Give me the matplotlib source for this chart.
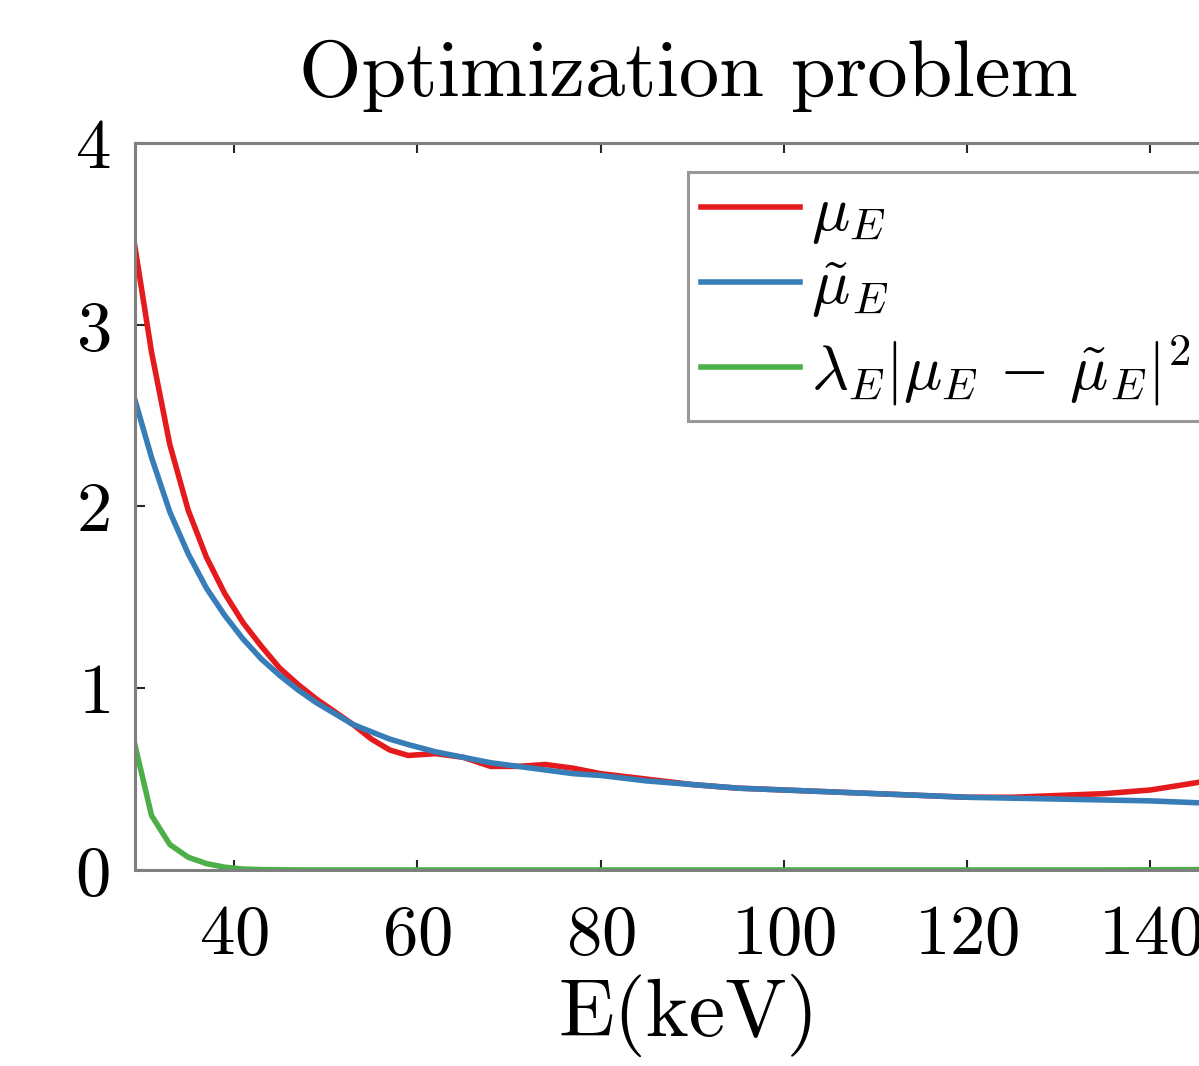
import numpy as np
import matplotlib.pyplot as plt

plt.rcParams['font.family'] = 'cmr10'
plt.rcParams['mathtext.fontset'] = 'cm'
plt.rcParams['axes.formatter.use_mathtext'] = True

# energy grid (keV)
energy = [29, 31, 33, 35, 37, 39, 41, 43, 45, 47, 49, 51, 53, 55, 57, 59,
          62, 65, 68, 71, 74, 77, 80, 85, 90, 95, 100, 105, 110, 115, 120,
          125, 130, 135, 140, 145, 150]

mu_true = [3.49, 2.85, 2.34, 1.98, 1.72, 1.52, 1.36, 1.23, 1.11, 1.02, 0.94,
           0.87, 0.80, 0.72, 0.66, 0.63, 0.64, 0.62, 0.57, 0.57, 0.58, 0.56,
           0.53, 0.50, 0.47, 0.45, 0.44, 0.43, 0.42, 0.41, 0.40, 0.40, 0.41,
           0.42, 0.44, 0.48, 0.53]

mu_fit = [2.62, 2.27, 1.97, 1.74, 1.55, 1.40, 1.27, 1.16, 1.07, 0.99, 0.92,
          0.86, 0.80, 0.76, 0.72, 0.69, 0.65, 0.62, 0.59, 0.57, 0.55, 0.53,
          0.52, 0.49, 0.47, 0.45, 0.44, 0.43, 0.42, 0.41, 0.40, 0.395, 0.39,
          0.385, 0.38, 0.37, 0.365]

penalty = [0.73, 0.30, 0.14, 0.07, 0.035, 0.015, 0.005, 0.002, 0.001, 0.0,
           0.0, 0.0, 0.0, 0.0, 0.0, 0.0, 0.0, 0.0, 0.0, 0.0, 0.0, 0.0, 0.0,
           0.0, 0.0, 0.0, 0.0, 0.0, 0.0, 0.0, 0.0, 0.0, 0.0, 0.0, 0.001,
           0.002, 0.004]

xticks = [40, 60, 80, 100, 120, 140]
yticks = [0, 1, 2, 3, 4]

fig = plt.figure(figsize=(11.99, 10.66), dpi=100)
ax = fig.add_axes([0.1126, 0.1839, 0.9233, 0.682])

ax.plot(energy, mu_true, color='#e41a1c', lw=4, label=r'$\mu_E$')
ax.plot(energy, mu_fit, color='#377eb8', lw=4, label=r'$\tilde{\mu}_E$')
ax.plot(energy, penalty, color='#4daf4a', lw=4,
        label=r'$\lambda_E|\mu_E\,-\,\tilde{\mu}_E|^2$')

ax.set_xlim(29.2, 150)
ax.set_ylim(0, 4)
ax.set_xticks(xticks)
ax.set_yticks(yticks)

for s in ax.spines.values():
    s.set_color('#7f7f7f')
    s.set_linewidth(2.2)
ax.tick_params(direction='in', length=7, width=1.5, color='#262626',
               labelsize=51, top=True, right=True)
ax.tick_params(axis='x', pad=25)
ax.tick_params(axis='y', pad=18)

ax.set_title('Optimization problem', fontsize=58, pad=34)
ax.set_xlabel('E(keV)', fontsize=59, labelpad=4)

leg = ax.legend(loc='upper left', bbox_to_anchor=(0.4995, 0.960),
                borderaxespad=0, fontsize=46, fancybox=False,
                handlelength=1.55, handletextpad=0.17, labelspacing=0.21,
                borderpad=0.2)
leg.get_frame().set_edgecolor('#7f7f7f')
leg.get_frame().set_linewidth(2.2)

plt.savefig('out.png', dpi=100)
